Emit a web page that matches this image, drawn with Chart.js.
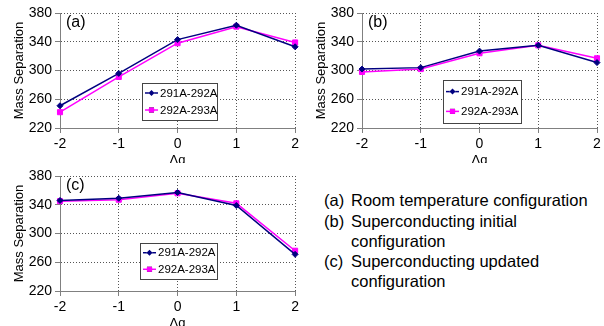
<!DOCTYPE html>
<html>
<head>
<meta charset="utf-8">
<script src="https://cdn.jsdelivr.net/npm/chart.js@4/dist/chart.umd.min.js"></script>
<style>
  html, body { margin: 0; padding: 0; background: #fff; }
  body { width: 604px; height: 326px; position: relative; overflow: hidden;
         font-family: Arial, "Liberation Sans", sans-serif; }
  .panel { position: absolute; width: 302px; height: 163px; overflow: hidden; }
  .panel canvas { position: absolute; left: 0; top: 0; }
  .note { position: absolute; font-size: 16.5px; line-height: 20px; color: #000; white-space: nowrap; }
</style>
</head>
<body>
<div class="panel" style="left:0;top:0"><canvas id="chart-a" width="302" height="175"></canvas></div>
<div class="panel" style="left:302px;top:0"><canvas id="chart-b" width="302" height="175"></canvas></div>
<div class="panel" style="left:0;top:163px"><canvas id="chart-c" width="302" height="175"></canvas></div>

<div class="note" style="left:324px;top:190px">(a)</div>
<div class="note" style="left:351px;top:190px">Room temperature configuration</div>
<div class="note" style="left:324px;top:211px">(b)</div>
<div class="note" style="left:351px;top:211px">Superconducting initial</div>
<div class="note" style="left:351px;top:231px">configuration</div>
<div class="note" style="left:324px;top:251px">(c)</div>
<div class="note" style="left:351px;top:251px">Superconducting updated</div>
<div class="note" style="left:351px;top:271px">configuration</div>

<script>
'use strict';

// ── Data ─────────────────────────────────────────────────────────────────────
const dq        = ['-2', '-1', '0', '1', '2'];
const yTicks    = [220, 260, 300, 340, 380];
const seriesA   = ['291A-292A', '292A-293A'];

const a291 = [251, 296, 343, 363, 333];
const a292 = [242, 291, 338, 361, 339];
const b291 = [302, 304, 327, 335, 311];
const b292 = [298, 302, 324, 335, 317];
const c291 = [346, 349, 357, 339, 271];
const c292 = [345, 347, 356, 342, 276];

const FONT = 'Arial, "Liberation Sans", sans-serif';
Chart.defaults.font.family = FONT;
Chart.defaults.color = '#000';

// ── Panel label + boxed legend inside the plot ───────────────────────────────
const panelDeco = {
  id: 'panelDeco',
  afterDatasetsDraw(chart, args, opts) {
    const { ctx, chartArea: ca } = chart;
    ctx.save();
    ctx.fillStyle = '#000';
    ctx.font = '16px ' + FONT;
    ctx.textBaseline = 'middle';
    ctx.fillText(opts.label, ca.left + 6, ca.top + 10);

    const [bx, by, bw, bh] = [ca.left + opts.box[0], ca.top + opts.box[1], opts.box[2], opts.box[3]];
    ctx.fillStyle = '#fff';
    ctx.fillRect(bx, by, bw, bh);
    ctx.strokeStyle = '#444';
    ctx.lineWidth = 1;
    ctx.strokeRect(bx + 0.5, by + 0.5, bw, bh);

    ctx.font = '11.5px ' + FONT;
    chart.data.datasets.forEach((ds, i) => {
      const y = by + bh * (i === 0 ? 0.27 : 0.73);
      ctx.strokeStyle = ds.borderColor;
      ctx.lineWidth = ds.borderWidth;
      ctx.beginPath();
      ctx.moveTo(bx + 3, y);
      ctx.lineTo(bx + 16, y);
      ctx.stroke();
      Chart.helpers.drawPoint(ctx, { pointStyle: ds.pointStyle, radius: ds.pointRadius, rotation: 0 }, bx + 9.5, y);
      ctx.fillStyle = ds.backgroundColor;
      ctx.fill();
      ctx.fillStyle = '#000';
      ctx.fillText(ds.label, bx + 18, y + 0.5);
    });
    ctx.restore();
  },
};

function series(label, data, color, style, r) {
  return {
    label, data,
    borderColor: color, backgroundColor: color, borderWidth: 1.5,
    pointStyle: style, pointRadius: r, pointBorderWidth: 1,
    pointBackgroundColor: color, pointBorderColor: color,
    tension: 0,
  };
}

const gridOpts = { color: '#555', lineWidth: 1, tickLength: 5, tickColor: '#808080', tickBorderDash: [] };
const borderOpts = { color: '#808080', dash: [1, 2] };

function makeChart(id, label, s1, s2, rightPad, box) {
  const axisFont = { family: FONT, size: 14 };
  return new Chart(document.getElementById(id), {
    type: 'line',
    data: {
      labels: dq,
      datasets: [
        series(seriesA[0], s1, '#000080', 'rectRot', 3),
        series(seriesA[1], s2, '#ff00ff', 'rect', 3.6),
      ],
    },
    options: {
      responsive: false,
      animation: false,
      layout: { padding: { top: 13, right: rightPad, left: 0, bottom: 0 } },
      plugins: {
        legend: { display: false },
        tooltip: { enabled: false },
        panelDeco: { label, box },
      },
      scales: {
        x: {
          offset: false,
          grid: gridOpts,
          border: borderOpts,
          ticks: { color: '#000', font: axisFont, padding: 3, maxRotation: 0 },
          title: { display: true, text: 'Δq', color: '#000', font: { family: FONT, size: 13 }, padding: { top: 0, bottom: 7 } },
          afterFit: s => { s.height = 47; },
        },
        y: {
          min: yTicks[0], max: yTicks[yTicks.length - 1],
          afterBuildTicks: s => { s.ticks = yTicks.map(v => ({ value: v })); },
          grid: gridOpts,
          border: borderOpts,
          ticks: { color: '#000', font: axisFont, padding: 3 },
          title: { display: true, text: 'Mass Separation', color: '#000', font: { family: FONT, size: 13 }, padding: { top: 12, bottom: 0 } },
          afterFit: s => { s.width = 60; },
        },
      },
    },
    plugins: [panelDeco],
  });
}

makeChart('chart-a', '(a)', a291, a292, 5, [82, 70, 75, 37]);
makeChart('chart-b', '(b)', b291, b292, 7, [81, 67, 78, 43]);
makeChart('chart-c', '(c)', c291, c292, 5, [80, 67, 77, 36]);
</script>
</body>
</html>
